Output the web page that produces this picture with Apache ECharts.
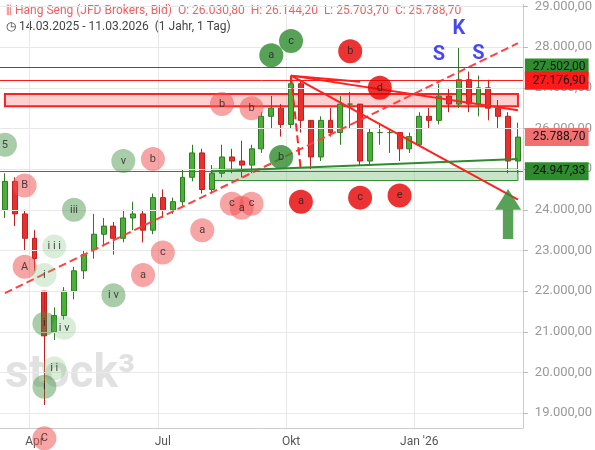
<!DOCTYPE html>
<html>
<head>
<meta charset="utf-8">
<script src="https://cdn.jsdelivr.net/npm/echarts@6/dist/echarts.min.js"></script>
<style>html,body{margin:0;padding:0;background:#fff}#main{width:595px;height:450px}</style>
</head>
<body>
<div id="main"></div>
<script>
// weekly candles, [open, close, low, high]
const ohlc = [
  [24000,24700,23800,24900],[24700,23900,23600,24800],[23900,23300,23000,24000],[23300,22800,22500,23500],
  [22000,20900,19200,21500],[21000,21400,20800,21600],[21400,22000,21300,22100],[22000,22500,21800,22600],
  [22500,22900,22300,23000],[23000,23400,22800,23900],[23400,23600,23100,23800],[23600,23300,22900,23700],
  [23300,23800,23200,24000],[23800,23900,23500,24200],[23900,23500,23200,24000],[23500,24300,23400,24400],
  [24300,24000,23800,24500],[24000,24200,23900,24300],[24200,24800,24100,25000],[24800,25400,24700,25600],
  [25400,24500,24400,25500],[24500,24900,24400,25100],[24900,25300,24800,25600],[25300,25200,24900,25500],
  [25200,25100,24800,25700],[25100,25500,24900,25600],[25500,26300,25400,26400],[26300,26500,26000,26800],
  [26500,26100,25800,26600],[26100,27100,26000,27300],[27100,26200,25900,27200],[26200,25300,25000,26000],
  [25300,26200,25200,26300],[26200,25900,25800,26500],[25900,26600,25600,26800],[26600,26600,26000,26900],
  [26600,25200,25100,26400],[25200,25900,25100,26000],[25900,25900,25600,26100],[25900,25900,25400,26000],
  [25900,25500,25200,25900],[25500,25800,25400,25900],[25600,26300,25600,26400],[26300,26200,26000,26500],
  [26200,26800,26100,27100],[26800,26600,26400,27000],[26600,27200,26500,28000],[27200,26600,26400,27400],
  [26600,27000,26300,27300],[27000,26500,26200,27200],[26500,26300,26000,26700],[26300,25200,24900,26400],
  [25200,25788.7,24900,26144.2]
];
const yTicks = [19000,20000,21000,22000,23000,24000,25000,26000,27000,28000,29000];
const priceTags = [
  {v:27502.00, bg:'#2e8b2e', line:'#2e6b2e'},
  {v:27176.90, bg:'#ff1a1a', line:'#ff1a1a'},
  {v:25788.70, bg:'#f07070', line:'rgba(0,0,0,0)'},
  {v:24947.33, bg:'#2e8b2e', line:'#2e8b2e'}
];
// [index, value, label, style]
const notes = [
  [0,25600,'5','gm'],[2,24600,'B','p'],[1.5,22600,'A','p'],[7,24000,'iii','gm'],[5,23100,'i i i','gl'],
  [4,22400,'i','gl'],[3.5,21200,'i','gm'],[6,21100,'i v','gl'],[4.8,20100,'i i','gl'],[4,19650,'i','gm'],
  [3.5,18380,'C','p'],[11,21900,'i v','gm'],[12.3,25200,'v','gm'],[14.5,25250,'b','p'],[13.5,22400,'a','p'],
  [15.8,22950,'c','p'],[20,23500,'a','p'],[21.8,26600,'b','p'],[24.9,26500,'b','p'],[22.9,24150,'c','p'],
  [24.1,24050,'a','p'],[25.1,24150,'c','p'],[27.2,27800,'a','g'],[29.1,28150,'c','g'],[28.1,25300,'b','g'],
  [30.2,24200,'a','r'],[35.1,27900,'b','r'],[37.8,27000,'d','r'],[36.4,24300,'c','r'],[40,24350,'e','r']
];
const waveLetters = [[44.2,27800,'S'],[46.2,28450,'K'],[48.1,27830,'S']];

const fills = {p:'rgba(240,80,80,0.65)', r:'#e60000', g:'#2e8b2e', gm:'rgba(60,140,60,0.55)', gl:'rgba(120,190,120,0.35)'};

const start = new Date(2025,2,14);
const dates = ohlc.map((d,i) => {
  if (i === ohlc.length-1) return new Date(2026,2,11);
  const t = new Date(start); t.setDate(t.getDate()+7*i); return t;
});
const monthNames = {3:'Apr',6:'Jul',9:'Okt',0:"Jan '26"};
const isLabel = i => i>0 && dates[i].getMonth()!==dates[i-1].getMonth() && (dates[i].getMonth() in monthNames);
const fmt = v => v.toLocaleString('de-DE',{minimumFractionDigits:2,maximumFractionDigits:2});
const red = {color:'#ff2020',type:'solid',width:2};

const chart = echarts.init(document.getElementById('main'));
chart.setOption({
  animation:false,
  textStyle:{fontFamily:'Roboto, sans-serif'},
  grid:{left:0,right:70,top:0,bottom:22},
  xAxis:{type:'category',data:dates.map((d,i)=>i),boundaryGap:true,
    axisLine:{lineStyle:{color:'#ccc'}},axisTick:{show:false},
    axisLabel:{interval:(i)=>isLabel(i),formatter:(v,i)=>monthNames[dates[i].getMonth()],color:'#555',fontSize:12},
    splitLine:{show:true,interval:(i)=>isLabel(i),lineStyle:{color:'#e8e8e8'}}},
  yAxis:{type:'value',position:'right',min:18635,max:29050,scale:true,
    axisLine:{show:true,lineStyle:{color:'#ccc'}},splitLine:{show:false},
    axisTick:{show:true,customValues:yTicks,lineStyle:{color:'#bbb'}},
    axisLabel:{customValues:yTicks,formatter:fmt,color:'#999',fontSize:13,margin:12}},
  graphic:[
    {type:'text',left:6,top:5,style:{text:'\u2AFC Hang Seng (JFD Brokers, Bid)  O: 26.030,80  H: 26.144,20  L: 25.703,70  C: 25.788,70',fill:'#f06060',font:'12px Roboto'}},
    {type:'text',left:6,top:21,style:{text:'\u25F7 14.03.2025 - 11.03.2026  (1 Jahr, 1 Tag)',fill:'#444',font:'12px Roboto'}},
    {type:'text',left:5,top:352,z:0,style:{text:'stock\u00B3',fill:'rgba(170,170,170,0.35)',font:'bold 46px Roboto'}}
  ],
  series:[
    {type:'line',data:[],z:1,silent:true,
     markLine:{symbol:'none',silent:true,label:{show:false},lineStyle:{color:'#e8e8e8',type:'solid',width:1},
       data:yTicks.map(v=>({yAxis:v}))}},
    {type:'candlestick',data:ohlc,barWidth:'55%',z:3,
     itemStyle:{color:'#4caf3a',color0:'#e8312f',borderColor:'#2e7d22',borderColor0:'#c0201e'}},
    {type:'line',data:[],z:4,silent:true,
     markArea:{silent:true,data:[
       [{coord:[0,26850],itemStyle:{color:'rgba(255,120,120,0.35)',borderColor:'#ff2020',borderWidth:2}},{coord:[51.5,26550]}],
       [{coord:[21,25000],itemStyle:{color:'rgba(120,190,120,0.4)',borderColor:'#2e8b2e',borderWidth:1}},{coord:[51.5,24720]}]
     ]},
     markLine:{symbol:'none',silent:true,label:{show:false},data:[
       [{coord:[0,21950],lineStyle:{color:'#ff4040',type:'dashed',width:2}},{coord:[52,28100]}],
       [{coord:[29,27300],lineStyle:red},{coord:[52,26450]}],
       [{coord:[29,27300],lineStyle:red},{coord:[52,24250]}],
       [{coord:[29,27300],lineStyle:red},{coord:[35.5,27150]}],
       [{coord:[29,27300],lineStyle:{color:'#ff2020',type:'dashed',width:2}},{coord:[30,24950]}],
       [{coord:[21,24950],lineStyle:{color:'#2e8b2e',type:'solid',width:2}},{coord:[52,25250]}]
     ].concat(priceTags.map(t=>({yAxis:t.v,
        lineStyle:{color:t.line,width:1,type:'solid'},
        label:{show:true,position:'end',formatter:fmt(t.v),backgroundColor:t.bg,color:'#111',fontSize:12,padding:[3,3,3,8],distance:2}})))}},
    {type:'scatter',z:6,silent:true,symbolSize:24,clip:false,
     data:notes.map(n=>({value:[n[0],n[1]],itemStyle:{color:fills[n[3]]},label:{show:true,position:'inside',formatter:n[2],color:'#222',fontSize:11}}))},
    {type:'scatter',z:6,silent:true,symbolSize:1,
     data:waveLetters.map(n=>({value:[n[0],n[1]],label:{show:true,position:'inside',formatter:n[2],color:'#1a1aee',fontSize:20,fontWeight:'bold'}}))},
    {type:'scatter',z:7,silent:true,symbol:'path://M5,0 L10,5 L7,5 L7,12 L3,12 L3,5 L0,5 Z',symbolSize:[26,50],
     itemStyle:{color:'#2e8b2e'},data:[[51,23900]]}
  ]
});
</script>
</body>
</html>
